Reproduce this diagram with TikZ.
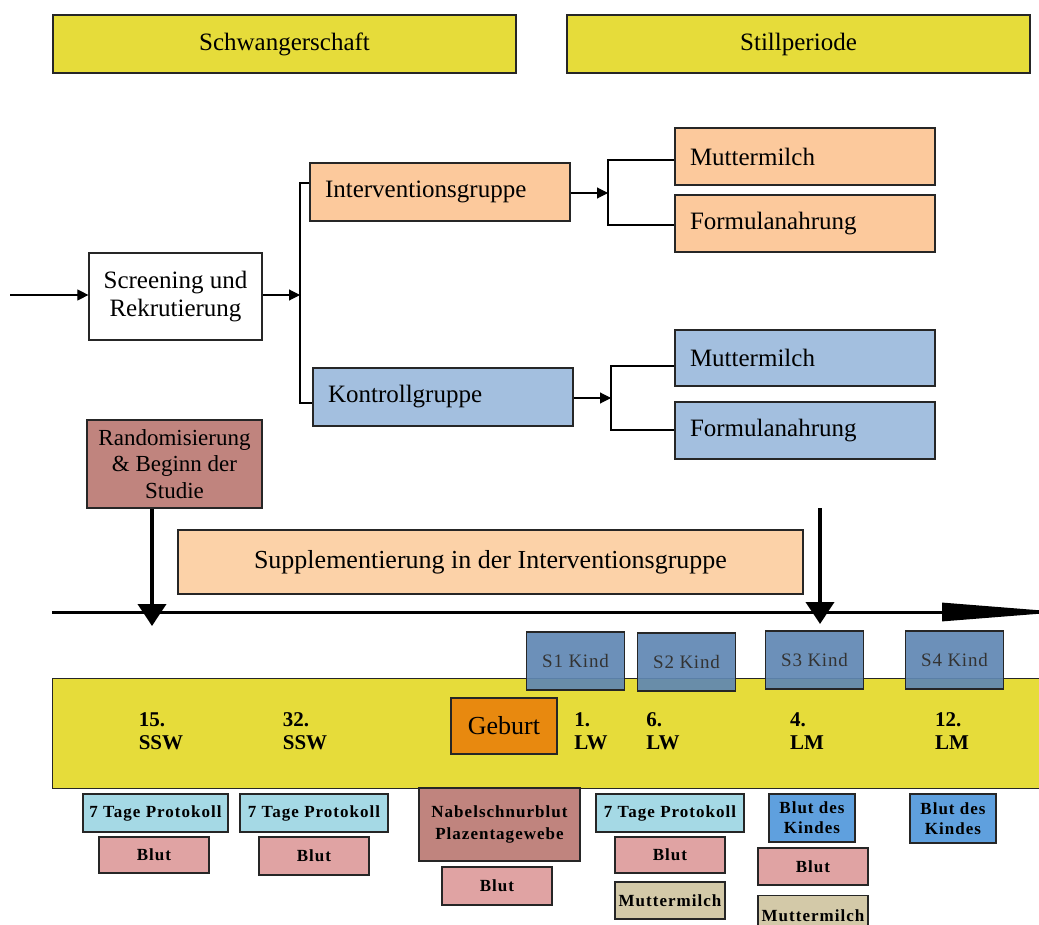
\documentclass[tikz,border=0pt]{standalone}
\usepackage{fontspec}
\setmainfont{Liberation Serif}
\usetikzlibrary{arrows.meta}
\definecolor{cyel}{HTML}{E6DC3A}
\definecolor{corg}{HTML}{FCC99C}
\definecolor{csup}{HTML}{FCD2A8}
\definecolor{cblu}{HTML}{A3BFDF}
\definecolor{crand}{HTML}{C0847E}
\definecolor{ckind}{HTML}{5F87B3}
\definecolor{cgeb}{HTML}{E8890F}
\definecolor{cprot}{HTML}{A5D9E5}
\definecolor{cblut}{HTML}{E0A3A3}
\definecolor{cmilk}{HTML}{D3C9A8}
\definecolor{cbdk}{HTML}{5FA0DE}
\newcommand{\spc}{\addfontfeatures{LetterSpace=6}}
\tikzset{
  bx/.style={draw=black!85, line width=1.2pt, rectangle, inner sep=0pt},
  lbx/.style={bx, align=left, font=\fontsize{25}{28}\selectfont},
  smb/.style={bx, align=center, font=\fontsize{17}{19}\selectfont\bfseries\spc},
  lab/.style={align=left, font=\fontsize{21}{23}\selectfont\bfseries, inner sep=0pt},
  arr/.style={line width=1.1pt, -{Triangle[length=11pt,width=11pt]}},
  brk/.style={line width=1.1pt},
  big/.style={line width=4pt, -{Triangle[length=22pt,width=28pt]}}
}
\begin{document}
\begin{tikzpicture}[x=1pt,y=-1pt]
\useasboundingbox (0,0) rectangle (1039,925);
% header
\node[bx, fill=cyel, minimum width=463pt, minimum height=58pt, font=\fontsize{25}{28}\selectfont] (sch) at (284.5,44) {Schwangerschaft};
\node[bx, fill=cyel, minimum width=463pt, minimum height=58pt, font=\fontsize{25}{28}\selectfont] (still) at (798.5,44) {Stillperiode};
% flow
\node[bx, fill=white, minimum width=173pt, minimum height=87pt, align=center, font=\fontsize{25}{28}\selectfont] (scr) at (175.5,296.5) {Screening und\\Rekrutierung};
\node[lbx, fill=corg, minimum width=260pt, minimum height=58pt, text width=230pt] (ig) at (440,192) {Interventionsgruppe};
\node[lbx, fill=cblu, minimum width=260pt, minimum height=58pt, text width=230pt] (kg) at (443,397) {Kontrollgruppe};
\node[lbx, fill=corg, minimum width=260pt, minimum height=57pt, text width=230pt] (mm1) at (805,156.5) {Muttermilch};
\node[lbx, fill=corg, minimum width=260pt, minimum height=57pt, text width=230pt] (fn1) at (805,223.5) {Formulanahrung};
\node[lbx, fill=cblu, minimum width=260pt, minimum height=56pt, text width=230pt] (mm2) at (805,358) {Muttermilch};
\node[lbx, fill=cblu, minimum width=260pt, minimum height=57pt, text width=230pt] (fn2) at (805,430.5) {Formulanahrung};
% connectors
\coordinate (in) at (10,295);
\coordinate (b1) at (300,295);
\coordinate (b1t) at (300,183);
\coordinate (b1b) at (300,403);
\draw[arr] (in) -- (scr.west |- in);
\draw[arr] (scr.east |- b1) -- (b1);
\draw[brk] (b1t -| ig.west) -- (b1t) -- (b1b) -- (b1b -| kg.west);
\coordinate (b2) at (608,193);
\coordinate (b2t) at (608,160);
\coordinate (b2b) at (608,225);
\draw[arr] (ig.east |- b2) -- (b2);
\draw[brk] (b2t -| mm1.west) -- (b2t) -- (b2b) -- (b2b -| fn1.west);
\coordinate (b3) at (611,398);
\coordinate (b3t) at (611,366);
\coordinate (b3b) at (611,430);
\draw[arr] (kg.east |- b3) -- (b3);
\draw[brk] (b3t -| mm2.west) -- (b3t) -- (b3b) -- (b3b -| fn2.west);
% randomisation and supplement
\node[bx, fill=crand, minimum width=175pt, minimum height=88pt, align=center, font=\fontsize{23}{26.5}\selectfont] (rand) at (174.5,464) {Randomisierung\\\& Beginn der\\Studie};
\node[bx, fill=csup, minimum width=625pt, minimum height=64pt, font=\fontsize{26}{28}\selectfont] (sup) at (490.5,562) {Supplementierung in der Interventionsgruppe};
% timeline
\coordinate (t0) at (52,612);
\coordinate (t1) at (1062,612);
\draw[line width=3pt, -{Triangle[length=120pt,width=18pt]}] (t0) -- (t1);
\coordinate (a1) at (152,626);
\draw[big] (rand.south -| a1) -- (a1);
\coordinate (a2s) at (820,508);
\coordinate (a2) at (820,624);
\draw[big] (a2s) -- (a2);
% band
\node[bx, fill=cyel, minimum width=1000pt, minimum height=110pt, anchor=north west] (band) at (52,678) {};
\node[bx, fill=cgeb, minimum width=106pt, minimum height=56pt, font=\fontsize{26}{28}\selectfont] (geb) at (504,726) {Geburt};
\node[lab] (l15) at (161,731) {15.\\SSW};
\node[lab] (l32) at (305,731) {32.\\SSW};
\node[lab] (l1) at (591,731) {1.\\LW};
\node[lab] (l6) at (663,731) {6.\\LW};
\node[lab] (l4) at (807,731) {4.\\LM};
\node[lab] (l12) at (952,731) {12.\\LM};
% S boxes
\tikzset{kind/.style={bx, fill=ckind, fill opacity=0.92, text opacity=1, minimum width=98pt, minimum height=58pt, font=\fontsize{19}{21}\selectfont\addfontfeatures{LetterSpace=4}, text=black!80}}
\node[kind] (s1) at (575.5,661) {S1 Kind};
\node[kind] (s2) at (686.5,662) {S2 Kind};
\node[kind] (s3) at (814.5,660) {S3 Kind};
\node[kind] (s4) at (954.5,660) {S4 Kind};
% bottom boxes
\node[smb, fill=cprot, minimum width=145pt, minimum height=38pt] (p1) at (155.5,813) {7 Tage Protokoll};
\node[smb, fill=cprot, minimum width=148pt, minimum height=38pt] (p2) at (314,813) {7 Tage Protokoll};
\node[smb, fill=cprot, minimum width=148pt, minimum height=38pt] (p3) at (670,813) {7 Tage Protokoll};
\node[smb, fill=cblut, minimum width=110pt, minimum height=36pt] (bl1) at (154,855) {Blut};
\node[smb, fill=cblut, minimum width=110pt, minimum height=38pt] (bl2) at (314,856) {Blut};
\node[smb, fill=crand, minimum width=161pt, minimum height=73pt, font=\fontsize{17}{22}\selectfont\bfseries\spc] (nab) at (499.5,824.5) {Nabelschnurblut\\Plazentagewebe};
\node[smb, fill=cblut, minimum width=110pt, minimum height=38pt] (bl3) at (497,886) {Blut};
\node[smb, fill=cblut, minimum width=110pt, minimum height=36pt] (bl4) at (670,855) {Blut};
\node[smb, fill=cmilk, minimum width=110pt, minimum height=37pt] (mk1) at (670,900.5) {Muttermilch};
\node[smb, fill=cbdk, minimum width=86pt, minimum height=48pt, font=\fontsize{17}{20}\selectfont\bfseries\spc] (bk1) at (812,818) {Blut des\\Kindes};
\node[smb, fill=cblut, minimum width=110pt, minimum height=37pt] (bl5) at (813,866.5) {Blut};
\node[smb, fill=cmilk, minimum width=110pt, minimum height=40pt, anchor=north] (mk2) at (813,895) {Muttermilch};
\node[smb, fill=cbdk, minimum width=86pt, minimum height=49pt, font=\fontsize{17}{20}\selectfont\bfseries\spc] (bk2) at (953,818.5) {Blut des\\Kindes};
\end{tikzpicture}
\end{document}
